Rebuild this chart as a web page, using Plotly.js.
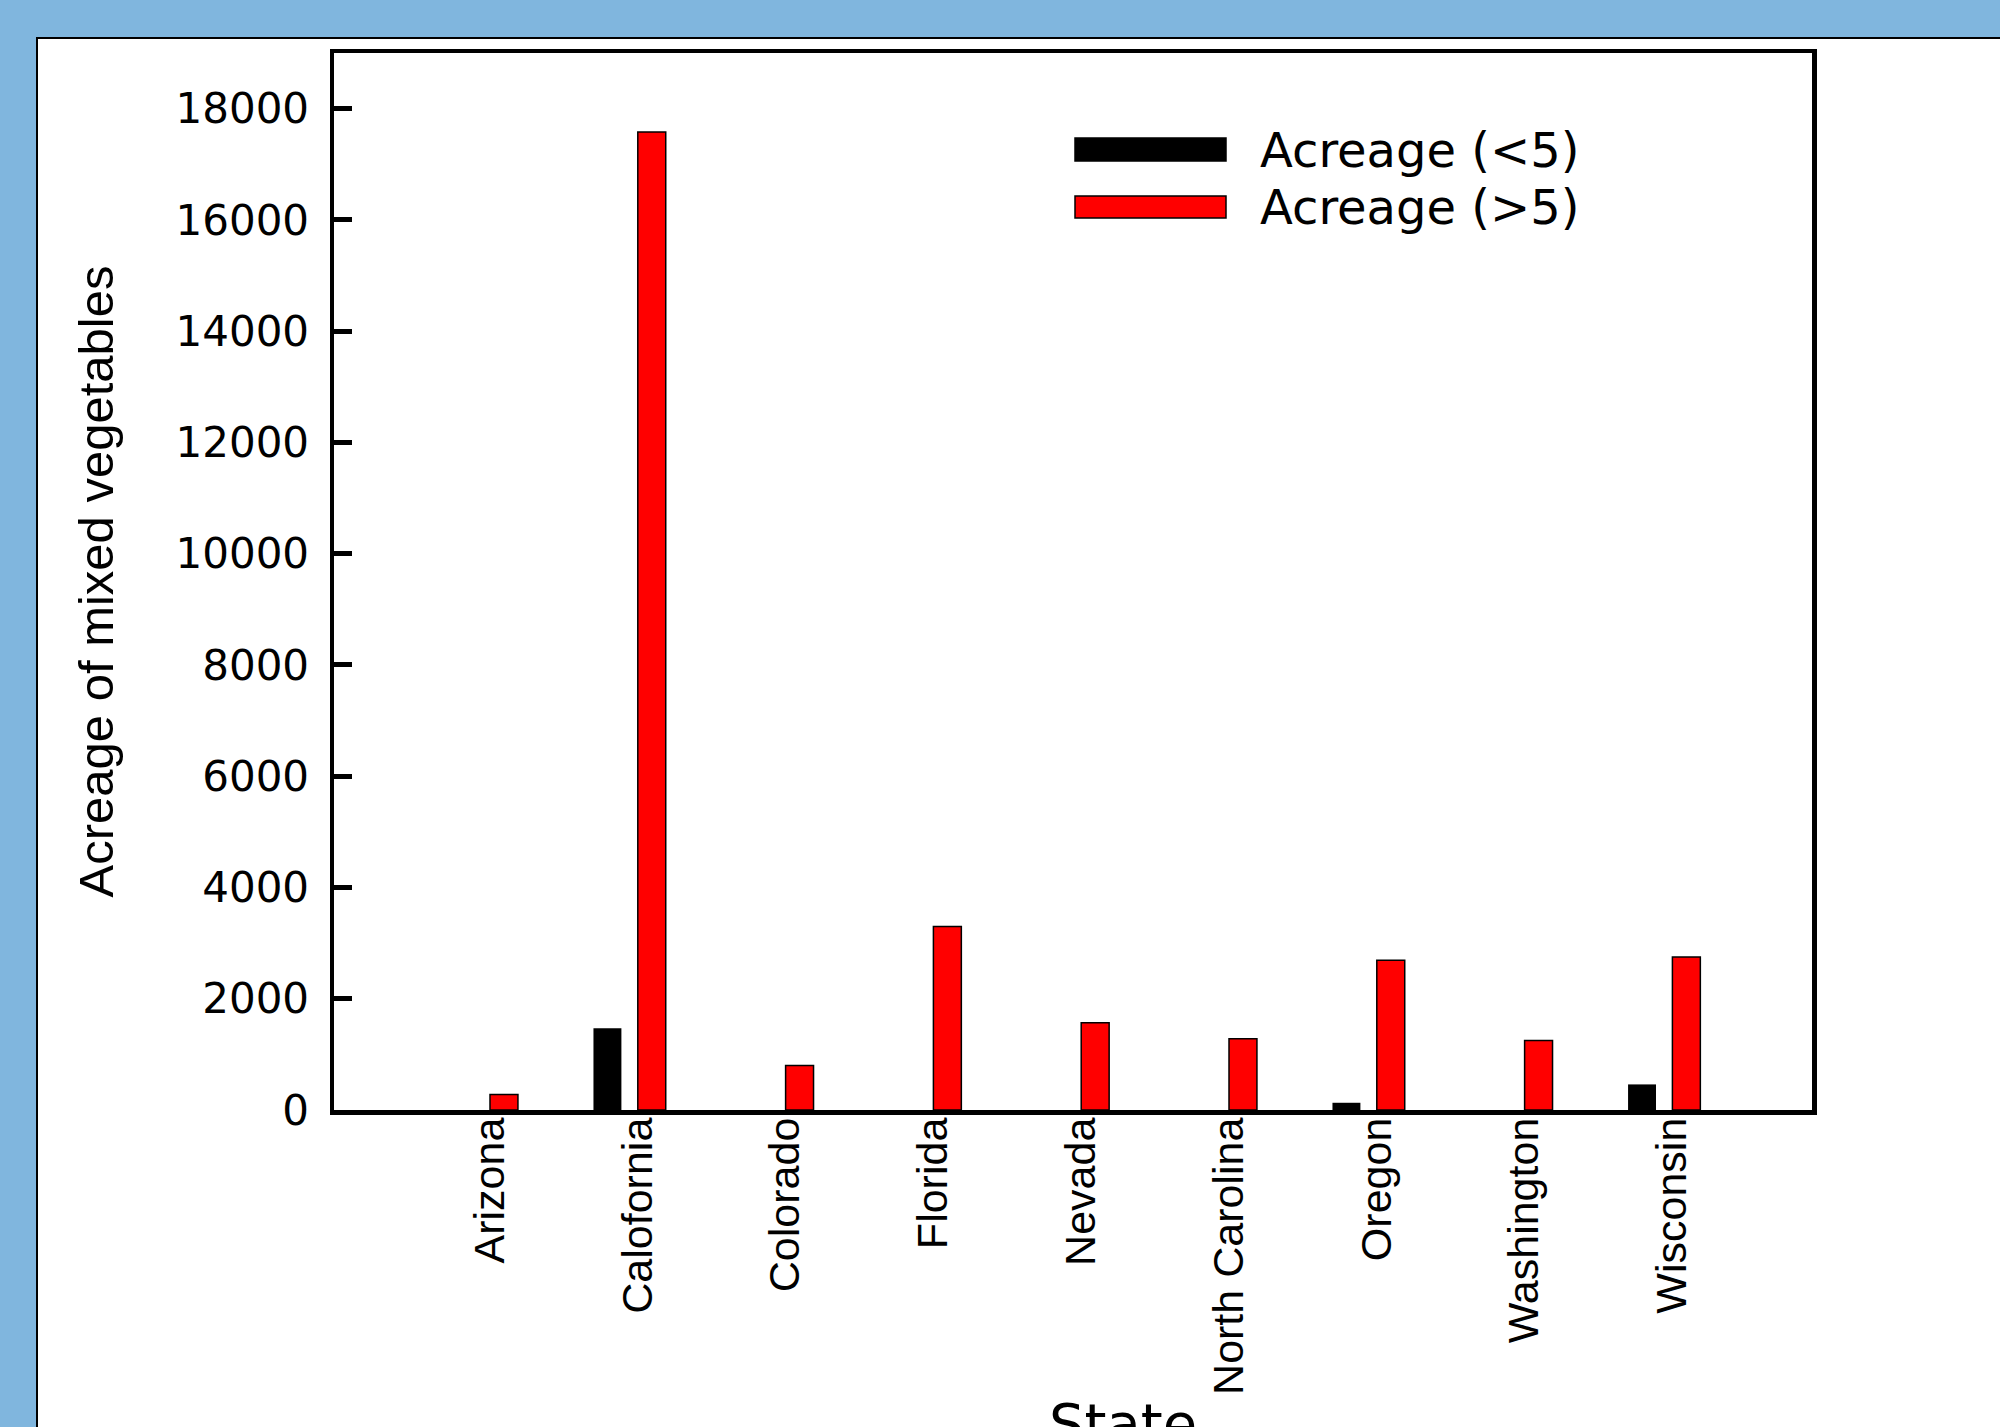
<!DOCTYPE html>
<html>
<head>
<meta charset="utf-8">
<script src="https://cdn.plot.ly/plotly-3.0.1.min.js"></script>
<style>
  html, body { margin: 0; padding: 0; background: #80b6de; }
  #chart { width: 2000px; height: 1427px; }
</style>
</head>
<body>
<div id="chart"></div>
<script>
// ---- data ----
const states = ['Arizona', 'Calofornia', 'Colorado', 'Florida', 'Nevada', 'North Carolina', 'Oregon', 'Washington', 'Wisconsin'];
const acreageBelow5 = [0, 1470, 0, 0, 0, 0, 130, 0, 460];
const acreageAbove5 = [280, 17580, 800, 3300, 1570, 1280, 2690, 1250, 2750];
const seriesNames = ['Acreage (&lt;5)', 'Acreage (&gt;5)'];
const seriesColors = ['#000000', '#ff0000'];
const yTickValues = [0, 2000, 4000, 6000, 8000, 10000, 12000, 14000, 16000, 18000];
const xTitle = 'State';
const yTitle = 'Acreage of mixed vegetables';

const WIDE = '"DejaVu Sans", Verdana, Arial, sans-serif';
const ARIAL = '"Liberation Sans", Arial, Helvetica, sans-serif';

const traces = [
  {
    type: 'bar', name: seriesNames[0], x: states, y: acreageBelow5,
    marker: { color: seriesColors[0], line: { color: '#000', width: 0 } },
    showlegend: false
  },
  {
    type: 'bar', name: seriesNames[1], x: states, y: acreageAbove5,
    marker: { color: seriesColors[1], line: { color: '#000', width: 1.5 } },
    showlegend: false
  }
];

// plot area in pixels
const L = 334, R = 1812, T = 53, B = 1110;
const px = v => (v - L) / (R - L);
const py = v => (B - v) / (B - T);

const legendRows = [
  { y0: 138, y1: 161, yc: 150 },
  { y0: 196, y1: 218, yc: 207 }
];

const shapes = [
  // white panel with thin black frame
  { type: 'rect', xref: 'paper', yref: 'paper', layer: 'below',
    x0: px(37), x1: px(2100), y0: py(38), y1: py(1600),
    fillcolor: '#ffffff', line: { color: '#000', width: 2 } }
];
const annotations = [];
legendRows.forEach((r, i) => {
  shapes.push({ type: 'rect', xref: 'paper', yref: 'paper',
    x0: px(1075), x1: px(1226), y0: py(r.y1), y1: py(r.y0),
    fillcolor: seriesColors[i], line: { color: '#000', width: 1.5 } });
  annotations.push({ xref: 'paper', yref: 'paper', x: px(1258), y: py(r.yc),
    xanchor: 'left', yanchor: 'middle', showarrow: false, text: seriesNames[i],
    font: { family: WIDE, size: 48, color: '#000' } });
});
annotations.push({ xref: 'paper', yref: 'paper', x: px(1123), y: py(1389),
  xanchor: 'center', yanchor: 'top', showarrow: false, text: xTitle,
  font: { family: WIDE, size: 56, color: '#000' } });

const layout = {
  width: 2000, height: 1427,
  margin: { l: L, r: 2000 - R, t: T, b: 1427 - B, pad: 0 },
  paper_bgcolor: '#80b6de',
  plot_bgcolor: '#ffffff',
  barmode: 'group', bargap: 0.4, bargroupgap: 0.37,
  showlegend: false,
  xaxis: {
    type: 'category', range: [-1, 9], showgrid: false, zeroline: false,
    showline: true, mirror: true, linecolor: '#000', linewidth: 4.5,
    ticks: '', tickangle: -90,
    ticklabelstandoff: -14, ticklabelshift: 8,
    tickfont: { family: ARIAL, size: 43, color: '#000' },
    automargin: false
  },
  yaxis: {
    range: [0, 19000], tickvals: yTickValues, tickformat: 'd',
    showgrid: false, zeroline: false,
    showline: true, mirror: true, linecolor: '#000', linewidth: 4.5,
    ticks: 'inside', ticklen: 18, tickwidth: 5, tickcolor: '#000',
    ticklabelstandoff: 12,
    tickfont: { family: WIDE, size: 42, color: '#000' },
    title: { text: yTitle, font: { family: ARIAL, size: 49, color: '#000' }, standoff: 48 },
    automargin: false
  },
  shapes: shapes,
  annotations: annotations
};

Plotly.newPlot('chart', traces, layout, { displayModeBar: false, staticPlot: true });
</script>
</body>
</html>
